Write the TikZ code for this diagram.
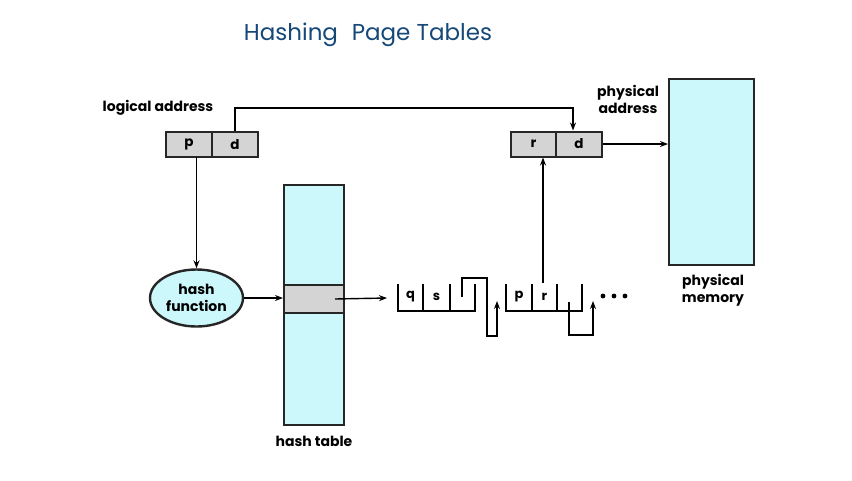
\documentclass[tikz,border=0pt]{standalone}
\usepackage{fontspec}
\setmainfont{Poppins}
\usetikzlibrary{arrows.meta,shapes.geometric}
\definecolor{cyanfill}{RGB}{204,247,251}
\definecolor{cellgray}{RGB}{212,212,212}
\definecolor{titleblue}{RGB}{22,72,120}
\begin{document}
\begin{tikzpicture}[x=1pt,y=-1pt,
  lbl/.style={font=\bfseries\fontsize{14}{17}\selectfont, align=center, inner sep=0},
  cell/.style={draw=black!85, line width=2pt, fill=cellgray, minimum height=25, inner sep=0, font=\bfseries\fontsize{13.5}{15}\selectfont},
  block/.style={draw=black!85, line width=2pt, fill=cyanfill, inner sep=0},
  arr/.style={-{Stealth[length=8pt,width=6pt]}, line width=1.4pt},
  chainline/.style={line width=1.4pt},
  small/.style={font=\bfseries\fontsize{13}{15}\selectfont, inner sep=0}]
\fill[white] (0,0) rectangle (852,480);
\useasboundingbox (0,0) rectangle (852,480);

% title
\node[font=\fontsize{23}{28}\selectfont, text=titleblue] (title) at (368,35) {Hashing\hspace{0.6em}Page Tables};

% logical address
\node[lbl] (lal) at (158,108) {logical address};
\node[cell, minimum width=46] (p) at (189,144.5) {p};
\node[cell, minimum width=46] (d) at (235,144.5) {d};

% physical address
\node[lbl] (pal) at (628,99.5) {physical\\address};
\node[cell, minimum width=45] (pr) at (533.5,144) {r};
\node[cell, minimum width=46] (pd) at (579,144) {d};

% physical memory
\node[block, minimum width=85, minimum height=186] (mem) at (711.5,172) {};
\node[lbl] (meml) at (713,290.5) {physical\\memory};

% hash function
\node[ellipse, draw=black!85, line width=2.4pt, fill=cyanfill, minimum width=93, minimum height=57, inner sep=0, align=center, font=\bfseries\fontsize{14}{17}\selectfont] (hf) at (196.5,298) {hash\\function};

% hash table
\node[block, minimum width=60, minimum height=240] (ht) at (314,305) {};
\node[draw=black!85, line width=2pt, fill=cellgray, minimum width=60, minimum height=28, inner sep=0] (entry) at (314,299) {};
\node[lbl] (htl) at (314,441) {hash table};

% connectors
\coordinate (top) at (573,108);
\draw[arr] (d.north) |- (top) -- (top |- pd.north);
\draw[arr] (pd.east) -- (mem.west |- pd.east);
\coordinate (pdown) at (196.5,157);
\draw[arr] (pdown) -- (hf.north);
\draw[arr] (hf.east) -- (ht.west |- hf.east);
\coordinate (chainin) at (387,298);
\draw[arr] ([xshift=-10pt]entry.east) -- (chainin);

% chain element 1
\draw[chainline] (398,284) -- (398,311) -- (475,311) -- (475,284);
\draw[chainline] (423,284) -- (423,311) (450,284) -- (450,311);
\node[small] (q1) at (410.5,297) {q};
\node[small] (s1) at (436.5,297) {s};
\draw[arr] (462,297) -- (462,278) -- (487,278) -- (487,336) -- (497,336) -- (497,301);

% chain element 2
\draw[chainline] (506,284) -- (506,311) -- (582,311) -- (582,284);
\draw[chainline] (532,284) -- (532,311) (557,284) -- (557,311);
\node[small] (p2) at (519,297) {p};
\node[small] (r2) at (544.5,297) {r};
\draw[arr] (569,302) -- (569,335) -- (593,335) -- (593,301);
\coordinate (rup) at (543,283);
\draw[arr] (rup) -- (rup |- pr.south);

% dots
\fill (603,296) circle (2.4) (614,296) circle (2.4) (625,296) circle (2.4);
\end{tikzpicture}
\end{document}
